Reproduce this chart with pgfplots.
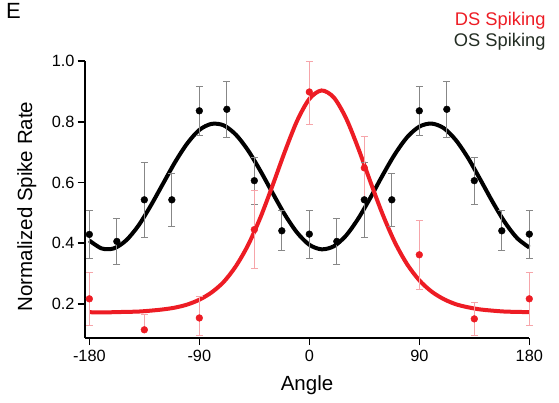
\documentclass[border=0pt]{standalone}
\usepackage{pgfplots}
\pgfplotsset{compat=1.18}
\usepackage{pgfplotstable}
\usepackage{fontspec}
\setmainfont{Liberation Sans}
\definecolor{dsred}{RGB}{237,28,36}
\definecolor{dspink}{RGB}{246,165,170}
\definecolor{osgray}{RGB}{135,135,135}
\definecolor{ostext}{RGB}{35,45,35}

\pgfplotstableread{
x y ep em
-180 0.429 0.078 0.078
-157.5 0.406 0.076 0.076
-135 0.543 0.123 0.123
-112.5 0.543 0.087 0.087
-90 0.836 0.082 0.082
-67.5 0.841 0.091 0.091
-45 0.606 0.078 0.078
-22.5 0.441 0.066 0.066
0 0.430 0.079 0.079
22.5 0.406 0.076 0.076
45 0.543 0.123 0.123
67.5 0.543 0.087 0.087
90 0.836 0.082 0.082
112.5 0.841 0.091 0.091
135 0.606 0.078 0.078
157.5 0.441 0.066 0.066
180 0.430 0.079 0.079
}\osdata

\pgfplotstableread{
x y ep em
-180 0.217 0.088 0.088
-135 0.115 0.050 0.000
-90 0.154 0.072 0.059
-45 0.445 0.129 0.127
0 0.898 0.102 0.108
45 0.648 0.104 0.104
90 0.362 0.112 0.113
135 0.151 0.054 0.053
180 0.217 0.088 0.088
}\dsdata

\begin{document}
\begin{tikzpicture}
\path[use as bounding box] (0,0) rectangle (559pt,402pt);
\begin{axis}[
  at={(84.7pt,64pt)}, anchor=south west,
  scale only axis, width=444.6pt, height=277pt,
  xmin=-183.8, xmax=180, ymin=0.088, ymax=1.0,
  axis x line*=bottom, axis y line*=left,
  axis line style={line width=1.6pt, black},
  xtick={-180,-90,0,90,180}, xticklabels={-180,-90,0,90,180},
  ytick={0.2,0.4,0.6,0.8,1.0}, yticklabels={0.2,0.4,0.6,0.8,1.0},
  tick align=outside, major tick length=7pt,
  tick style={line width=1.6pt, black},
  tick label style={font=\fontsize{16.3}{19}\selectfont},
  yticklabel style={inner sep=3pt},
  xticklabel style={yshift=-2pt},
  clip=false,
  xlabel={Angle}, ylabel={Normalized Spike Rate},
  label style={font=\fontsize{20.5}{24}\selectfont},
  xlabel style={at={(axis description cs:0.5,-0.191)}, anchor=base},
  ylabel style={at={(axis description cs:-0.1185,0.475)}, anchor=base},
]
% OS fit
\addplot[black, line width=4pt, smooth, no marks] coordinates {
(-180,0.409) (-170,0.383) (-160,0.383) (-150,0.409) (-140,0.457) (-130,0.522)
(-120,0.594) (-110,0.666) (-100,0.728) (-90,0.773) (-80,0.793) (-70,0.788)
(-60,0.757) (-50,0.705) (-40,0.638) (-30,0.565) (-20,0.494) (-10,0.435)
(0,0.395) (10,0.380) (20,0.390) (30,0.425) (40,0.481) (50,0.550)
(60,0.624) (70,0.693) (80,0.749) (90,0.784) (100,0.794) (110,0.779)
(120,0.739) (130,0.680) (140,0.609) (150,0.536) (160,0.469) (170,0.417) (180,0.386)
};
% DS fit
\addplot[dsred, line width=4pt, smooth, no marks] coordinates {
(-180,0.173) (-170,0.172) (-160,0.173) (-150,0.174) (-140,0.175) (-130,0.178)
(-120,0.182) (-110,0.188) (-100,0.198) (-90,0.214) (-80,0.238) (-70,0.273)
(-60,0.325) (-50,0.395) (-40,0.485) (-30,0.591) (-20,0.702) (-10,0.803)
(0,0.875) (10,0.903) (20,0.880) (30,0.812) (40,0.713) (50,0.602)
(60,0.495) (70,0.403) (80,0.331) (90,0.278) (100,0.241) (110,0.216)
(120,0.199) (130,0.189) (140,0.182) (150,0.178) (160,0.175) (170,0.174) (180,0.173)
};
% OS points
\addplot[black, only marks, mark=*, mark size=3.4pt, mark options={fill=black, draw=black},
  error bars/.cd, y dir=both, y explicit,
  error bar style={osgray, line width=0.8pt},
  error mark options={osgray, rotate=90, mark size=3.5pt, line width=0.8pt}]
  table[x=x, y=y, y error plus=ep, y error minus=em] {\osdata};
% DS points
\addplot[dsred, only marks, mark=*, mark size=3.4pt, mark options={fill=dsred, draw=dsred},
  error bars/.cd, y dir=both, y explicit,
  error bar style={dspink, line width=0.8pt},
  error mark options={dspink, rotate=90, mark size=3.5pt, line width=0.8pt}]
  table[x=x, y=y, y error plus=ep, y error minus=em] {\dsdata};
\end{axis}
\node[anchor=base east, inner sep=0pt, text=dsred, font=\fontsize{18.3}{22}\selectfont] at (545.7pt,376.3pt) {DS Spiking};
\node[anchor=base east, inner sep=0pt, text=ostext, font=\fontsize{18.3}{22}\selectfont] at (545.7pt,355.3pt) {OS Spiking};
\node[anchor=base west, inner sep=0pt, font=\fontsize{22}{26}\selectfont] at (6pt,383.5pt) {E};
\end{tikzpicture}
\end{document}
